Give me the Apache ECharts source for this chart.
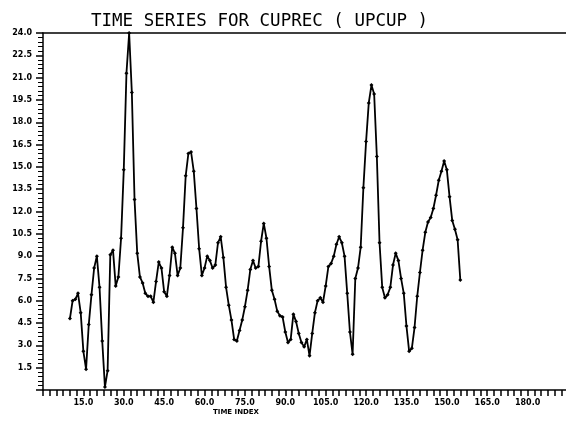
<!DOCTYPE html>
<html>
<head>
<meta charset="utf-8">
<script src="https://cdn.jsdelivr.net/npm/echarts@6/dist/echarts.min.js"></script>
<style>html,body{margin:0;background:#fff}</style>
</head>
<body>
<div id="chart" style="width:566px;height:423px"></div>
<script>
// time index of the first observation
const startIndex = 10;
// CUPREC values, one per time index (10 .. 155)
const cuprec = [
  4.8, 6.0, 6.1, 6.5, 5.2, 2.6, 1.4, 4.4, 6.4, 8.2,
  9.0, 6.9, 3.3, 0.2, 1.3, 9.1, 9.4, 7.0, 7.6, 10.2,
  14.8, 21.3, 24.0, 20.0, 12.8, 9.2, 7.6, 7.2, 6.5, 6.3,
  6.3, 5.9, 7.3, 8.6, 8.2, 6.6, 6.3, 7.7, 9.6, 9.2,
  7.7, 8.2, 10.9, 14.4, 15.9, 16.0, 14.7, 12.2, 9.5, 7.7,
  8.2, 9.0, 8.7, 8.2, 8.4, 9.9, 10.3, 8.9, 6.9, 5.7,
  4.7, 3.4, 3.3, 4.0, 4.7, 5.6, 6.7, 8.1, 8.7, 8.2,
  8.3, 10.0, 11.2, 10.2, 8.3, 6.7, 6.1, 5.3, 5.0, 4.9,
  3.9, 3.2, 3.4, 5.1, 4.6, 3.8, 3.2, 2.9, 3.4, 2.3,
  3.8, 5.2, 6.0, 6.2, 5.9, 7.0, 8.3, 8.5, 9.0, 9.8,
  10.3, 9.9, 9.0, 6.5, 3.9, 2.4, 7.5, 8.2, 9.6, 13.6,
  16.7, 19.3, 20.5, 19.9, 15.7, 9.9, 6.9, 6.2, 6.4, 6.9,
  8.4, 9.2, 8.7, 7.5, 6.5, 4.3, 2.6, 2.8, 4.2, 6.3,
  7.9, 9.4, 10.6, 11.3, 11.6, 12.2, 13.1, 14.1, 14.7, 15.4,
  14.8, 13.0, 11.4, 10.8, 10.1, 7.4
];
// labelled ticks
const xLabels = [15, 30, 45, 60, 75, 90, 105, 120, 135, 150, 165, 180];
const yLabels = [1.5, 3, 4.5, 6, 7.5, 9, 10.5, 12, 13.5, 15, 16.5, 18, 19.5, 21, 22.5, 24];

const points = cuprec.map((v, i) => [startIndex + i, v]);

const chart = echarts.init(document.getElementById('chart'));
const labelFont = { fontFamily: 'DejaVu Sans', fontWeight: 'bold', fontSize: 8, color: '#000' };
const black = { color: '#000', width: 1.5 };

chart.setOption({
  animation: false,
  backgroundColor: '#fff',
  title: {
    text: 'TIME SERIES FOR CUPREC ( UPCUP )',
    left: 86,
    top: 7,
    textStyle: { fontFamily: 'DejaVu Sans Mono', fontSize: 17.5, fontWeight: 'normal', color: '#000' }
  },
  grid: {
    left: 43, top: 33, width: 525, height: 357,
    outerBoundsMode: 'none',
    containLabel: false
  },
  xAxis: [{
    type: 'value',
    min: 0, max: 195, interval: 15,
    axisLine: { lineStyle: black },
    axisTick: { length: 6, lineStyle: black },
    minorTick: { show: true, splitNumber: 6, length: 6, lineStyle: black },
    splitLine: { show: false },
    axisLabel: Object.assign({
      margin: 9,
      showMaxLabel: false,
      formatter: v => xLabels.includes(v) ? v.toFixed(1) : ''
    }, labelFont)
  }, {
    // top frame line only
    type: 'value',
    position: 'top',
    min: 0, max: 195,
    axisLine: { show: true, lineStyle: black },
    axisTick: { show: false },
    axisLabel: { show: false },
    splitLine: { show: false }
  }],
  yAxis: {
    type: 'value',
    min: 0, max: 24, interval: 1.5,
    axisLine: { show: true, lineStyle: black },
    axisTick: { show: true, length: 7, lineStyle: black },
    minorTick: { show: true, splitNumber: 5, length: 5, lineStyle: { color: '#000', width: 1 } },
    splitLine: { show: false },
    axisLabel: Object.assign({
      margin: 11,
      formatter: v => yLabels.includes(v) ? v.toFixed(1) : ''
    }, labelFont)
  },
  graphic: [{
    type: 'text',
    left: 213,
    top: 409,
    style: { text: 'TIME INDEX', fontFamily: 'DejaVu Sans', fontWeight: 'bold', fontSize: 7, fill: '#000' }
  }],
  series: [{
    type: 'line',
    data: points,
    clip: false,
    symbol: 'diamond',
    symbolSize: 4,
    itemStyle: { color: '#000' },
    lineStyle: { color: '#000', width: 1.8 }
  }]
});
</script>
</body>
</html>
